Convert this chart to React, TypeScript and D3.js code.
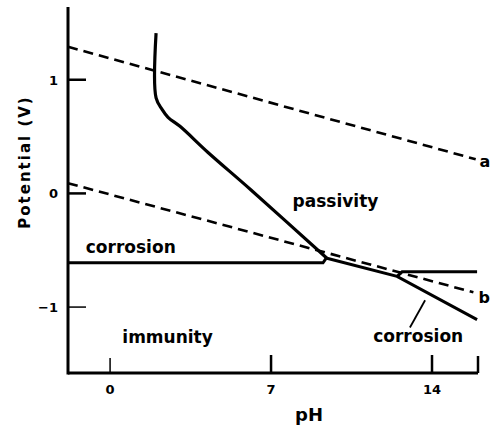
import React from 'react';
import * as d3 from 'd3';

// Pourbaix-type diagram (potential vs pH)
const lineA = [[-1.83, 1.29], [15.9, 0.3]];
const lineB = [[-1.83, 0.09], [15.8, -0.87]];

const passivityEdge = [
  [2.0, 1.41], [2.0, 0.84], [2.26, 0.74], [2.52, 0.67],
  [3.04, 0.59], [4.26, 0.36], [6.13, 0.03], [9.43, -0.57],
];
const lowCorrosionEdge = [[-1.83, -0.61], [9.26, -0.61], [9.43, -0.56]];
const lowerRight = [[9.43, -0.57], [12.48, -0.73], [15.96, -1.11]];
const upperRight = [[12.48, -0.73], [12.7, -0.69], [15.96, -0.69]];
const leader = [[13.7, -0.94], [13.04, -1.18]];

const xTicks = [0, 7, 14];
const xTickLabels = ['0', '7', '14'];
const yTicks = [1, 0, -1];
const yTickLabels = ['1', '0', '−1'];

const regionLabels = [
  { text: 'passivity', ph: 9.8, v: -0.12 },
  { text: 'corrosion', ph: 0.9, v: -0.52 },
  { text: 'immunity', ph: 2.5, v: -1.32 },
  { text: 'corrosion', ph: 13.4, v: -1.31 },
];
const lineLabels = [
  { text: 'a', ph: 16.06, v: 0.23 },
  { text: 'b', ph: 16.02, v: -0.96 },
];

const W = 492;
const H = 428;
const font = '"DejaVu Sans", "Liberation Sans", sans-serif';

export default function App() {
  const x = d3.scaleLinear().domain([-1.83, 16]).range([68, 478]);
  const y = d3.scaleLinear().domain([-1.58, 1.64]).range([373, 7]);

  const line = d3.line<number[]>().x((d) => x(d[0])).y((d) => y(d[1]));
  const smooth = d3.line<number[]>().x((d) => x(d[0])).y((d) => y(d[1]))
    .curve(d3.curveCatmullRom.alpha(0.5));

  const [x0, x1] = x.range();
  const [yb, yt] = y.range();

  return (
    <svg width={W} height={H} style={{ position: 'absolute', left: 0, top: 0, background: '#fff' }}>
      {/* dashed water lines */}
      <path d={line(lineA)} fill="none" stroke="#000" strokeWidth={2.6} strokeDasharray="10,6" />
      <path d={line(lineB)} fill="none" stroke="#000" strokeWidth={2.6} strokeDasharray="10,6" />

      {/* domain boundaries */}
      <path d={smooth(passivityEdge)} fill="none" stroke="#000" strokeWidth={3.2} />
      <path d={line(lowCorrosionEdge)} fill="none" stroke="#000" strokeWidth={3} />
      <path d={line(lowerRight)} fill="none" stroke="#000" strokeWidth={3} />
      <path d={line(upperRight)} fill="none" stroke="#000" strokeWidth={3} />
      <path d={line(leader)} fill="none" stroke="#000" strokeWidth={1.8} />

      {/* axes */}
      <line x1={x0} x2={x0} y1={yt} y2={yb + 1.5} stroke="#000" strokeWidth={3} />
      <line x1={x0} x2={x1} y1={yb} y2={yb} stroke="#000" strokeWidth={3} />
      <line x1={x1} x2={x1} y1={yb} y2={yb - 17} stroke="#000" strokeWidth={2.5} />
      {xTicks.map((t, i) => (
        <g key={'xt' + i}>
          <line x1={x(t)} x2={x(t)} y1={yb} y2={yb - (t === 0 ? 15 : 18)} stroke="#000" strokeWidth={t === 0 ? 1.5 : 2.5} />
          <text x={x(t)} y={yb + 21} textAnchor="middle" fontFamily={font} fontWeight="bold" fontSize={13}>
            {xTickLabels[i]}
          </text>
        </g>
      ))}
      {yTicks.map((t, i) => (
        <g key={'yt' + i}>
          <line x1={x0} x2={x0 + 18} y1={y(t)} y2={y(t)} stroke="#000" strokeWidth={t === -1 ? 1.5 : 2.5} />
          <text x={x0 - 10} y={y(t) + 5} textAnchor="end" fontFamily={font} fontWeight="bold" fontSize={13}>
            {yTickLabels[i]}
          </text>
        </g>
      ))}

      <text x={309} y={421} textAnchor="middle" fontFamily={font} fontWeight="bold" fontSize={18}>
        pH
      </text>
      <text transform={`translate(30,${162}) rotate(-90)`} textAnchor="middle" fontFamily={font} fontWeight="bold" fontSize={15} letterSpacing={2}>
        Potential (V)
      </text>

      {regionLabels.map((d, i) => (
        <text key={'rl' + i} x={x(d.ph)} y={y(d.v)} textAnchor="middle" fontFamily={font} fontWeight="bold" fontSize={17}>
          {d.text}
        </text>
      ))}
      {lineLabels.map((d, i) => (
        <text key={'ll' + i} x={x(d.ph)} y={y(d.v)} textAnchor="start" fontFamily={font} fontWeight="bold" fontSize={16}>
          {d.text}
        </text>
      ))}
    </svg>
  );
}
